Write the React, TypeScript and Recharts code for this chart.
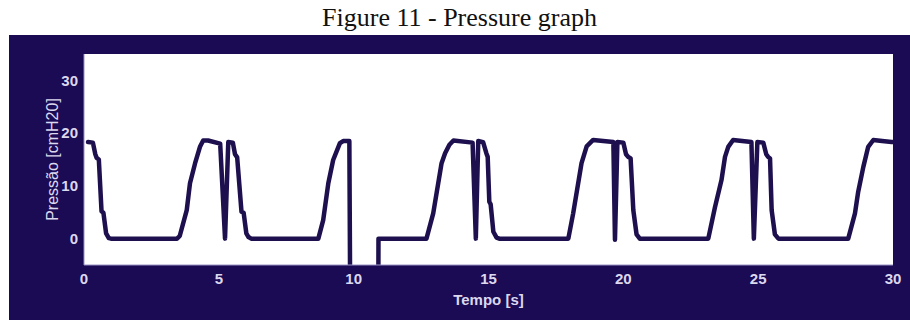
import { LineChart, Line, XAxis, YAxis, CartesianGrid } from 'recharts';

const TIME = [
  0.15, 0.33, 0.42, 0.47, 0.55, 0.65, 0.72, 0.82, 0.92, 1.0,
  3.45, 3.55, 3.81, 3.93, 4.12, 4.3, 4.42, 4.6, 5.05, 5.23, 5.35, 5.52, 5.6, 5.68, 5.84, 5.92, 6.02, 6.1, 6.2,
  8.69, 8.87, 9.06, 9.24, 9.49, 9.61, 9.84, 9.88, 10.91, 10.92,
  12.7, 12.95, 13.26, 13.39, 13.55, 13.7, 14.41, 14.53, 14.62, 14.8, 14.92, 14.97, 15.03, 15.08, 15.18, 15.3, 15.4,
  17.96, 18.14, 18.45, 18.64, 18.88, 19.63, 19.69, 19.78, 20.0, 20.1, 20.18, 20.27, 20.37, 20.49, 20.61,
  23.15, 23.4, 23.64, 23.77, 23.89, 24.07, 24.75, 24.84, 24.97, 25.19, 25.3, 25.37, 25.44, 25.5, 25.62, 25.75,
  28.34, 28.59, 28.71, 28.9, 29.08, 29.27, 29.6, 29.95, 30.0,
];

const PRESSURE = [
  18.3, 18.2, 16.0, 15.3, 15.0, 5.2, 4.9, 1.0, 0.1, 0,
  0, 0.5, 5.4, 10.5, 14.3, 17.4, 18.6, 18.6, 18.0, 0, 18.3, 18.2, 16.0, 15.4, 5.1, 4.9, 1.0, 0.3, 0,
  0, 3.5, 10.5, 14.9, 18.1, 18.5, 18.5, -20, -20, 0,
  0, 4.8, 14.3, 16.2, 17.8, 18.6, 18.2, 0, 18.5, 18.3, 16.2, 15.5, 7.0, 6.5, 1.3, 0.2, 0,
  0, 4.8, 14.3, 17.5, 18.7, 18.3, -0.2, 18.3, 18.2, 16.0, 15.5, 15.2, 5.4, 0.8, 0,
  0, 6.0, 11.1, 15.5, 17.4, 18.7, 18.3, 0, 18.3, 18.2, 16.0, 15.5, 15.2, 5.4, 0.8, 0,
  0, 4.8, 8.9, 13.6, 17.4, 18.7, 18.5, 18.3, 18.3,
];

const X_TICKS = [0, 5, 10, 15, 20, 25, 30];
const Y_TICKS = [0, 10, 20, 30];

const data = TIME.map((t, i) => ({ t, p: PRESSURE[i] }));

const PANEL = '#1b0a54';
const INK = '#1e104f';
const LIGHT = '#dcd8ee';

export default function App() {
  return (
    <div style={{ position: 'absolute', left: 0, top: 0, width: 910, height: 320, background: '#fff', overflow: 'hidden' }}>
      <div
        style={{
          position: 'absolute',
          top: 3,
          left: 9,
          width: 901,
          textAlign: 'center',
          fontFamily: '"Liberation Serif", "Times New Roman", serif',
          fontSize: 26,
          color: '#111',
        }}
      >
        Figure 11 - Pressure graph
      </div>
      <div style={{ position: 'absolute', left: 9, top: 35, width: 901, height: 285, background: PANEL }}>
        <LineChart
          width={901}
          height={285}
          data={data}
          margin={{ top: 19, right: 17, bottom: 0, left: 11 }}
          style={{ fontFamily: '"Liberation Sans", Arial, sans-serif' }}
        >
          <CartesianGrid horizontal={false} vertical={false} fill="#ffffff" />
          <XAxis
            dataKey="t"
            type="number"
            domain={[0, 30]}
            ticks={X_TICKS}
            allowDataOverflow
            height={55}
            tickLine={false}
            tickSize={6}
            tickMargin={2}
            axisLine={{ stroke: '#9a92c4', strokeWidth: 1 }}
            tick={{ fill: LIGHT, fontSize: 15, fontWeight: 700 }}
            label={{ value: 'Tempo [s]', position: 'insideBottom', offset: 15, fill: LIGHT, fontSize: 15, fontWeight: 700 }}
          />
          <YAxis
            type="number"
            domain={[-5, 35]}
            ticks={Y_TICKS}
            allowDataOverflow
            width={64}
            tickLine={false}
            tickSize={4}
            tickMargin={2}
            axisLine={{ stroke: '#9a92c4', strokeWidth: 1 }}
            tick={{ fill: LIGHT, fontSize: 15, fontWeight: 700 }}
            label={{ value: 'Pressão [cmH20]', angle: -90, position: 'center', fill: LIGHT, fontSize: 16 }}
          />
          <Line
            type="linear"
            dataKey="p"
            stroke={INK}
            strokeWidth={4.5}
            strokeLinejoin="round"
            strokeLinecap="round"
            dot={false}
            isAnimationActive={false}
          />
        </LineChart>
      </div>
    </div>
  );
}
